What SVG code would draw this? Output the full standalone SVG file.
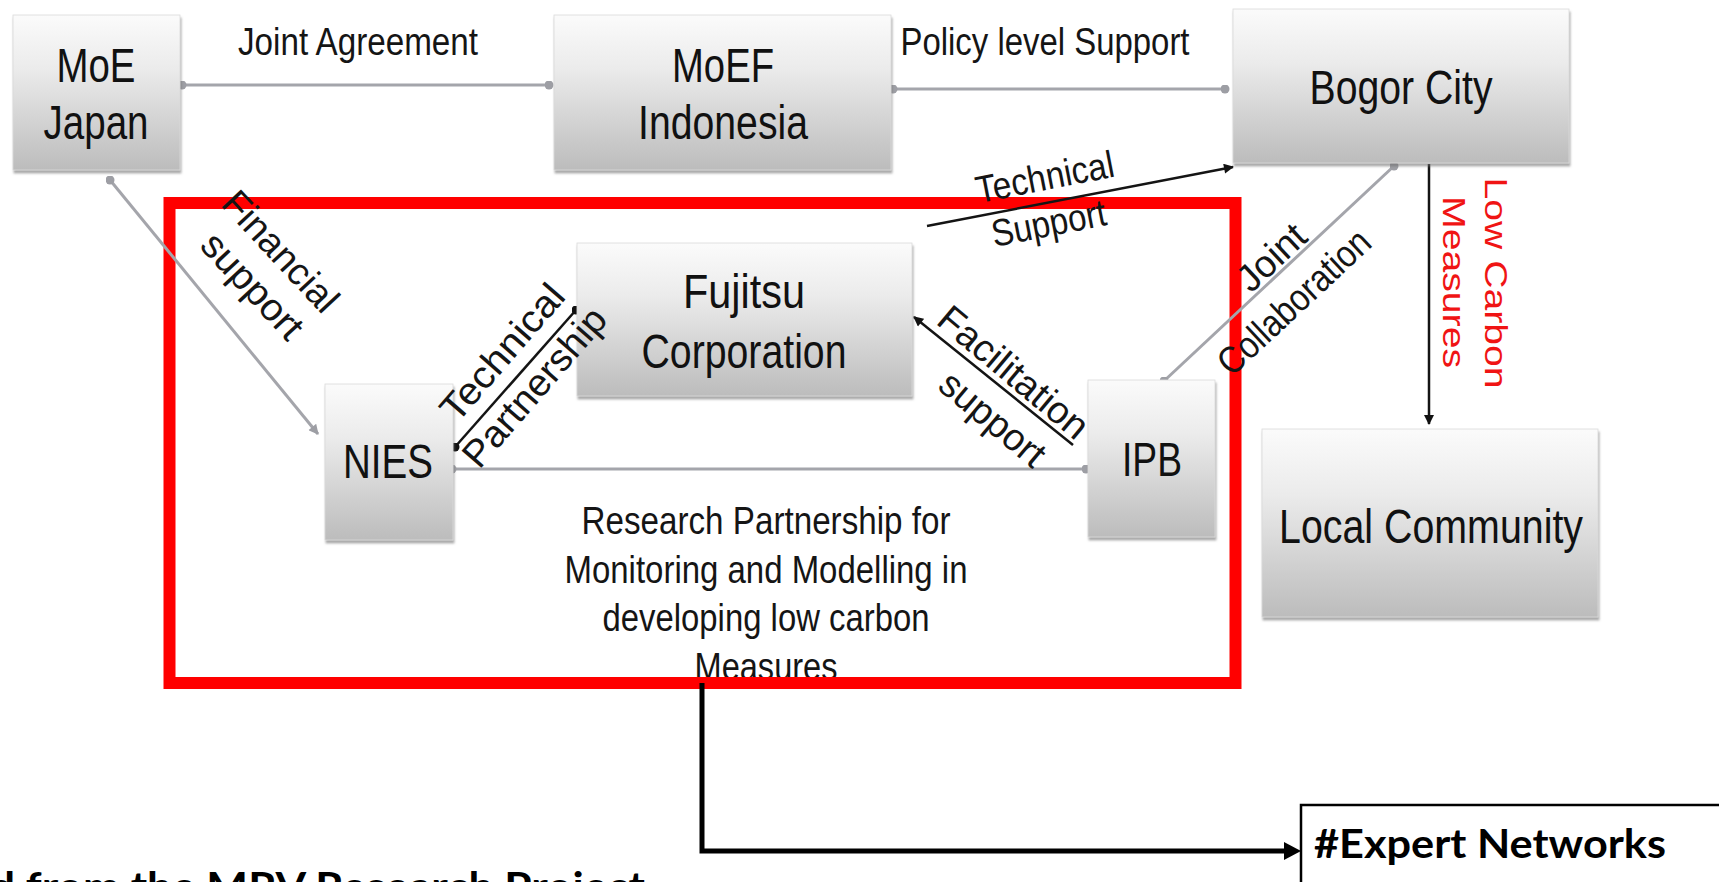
<svg xmlns="http://www.w3.org/2000/svg" width="1719" height="882" viewBox="0 0 1719 882">
  <defs>
    <linearGradient id="boxFill" x1="0" y1="0" x2="0" y2="1">
      <stop offset="0" stop-color="#fbfbfb"/>
      <stop offset="0.35" stop-color="#ebebeb"/>
      <stop offset="1" stop-color="#bcbcbc"/>
    </linearGradient>
    <filter id="boxShadow" x="-10%" y="-10%" width="120%" height="130%">
      <feDropShadow dx="1" dy="3" stdDeviation="1.2" flood-color="#6f6f6f" flood-opacity="0.6"/>
    </filter>
    <marker id="arrowBlack" viewBox="0 0 10 10" refX="9" refY="5" markerWidth="11" markerHeight="10" markerUnits="userSpaceOnUse" orient="auto">
      <path d="M0,0 L10,5 L0,10 Z" fill="#111"/>
    </marker>
    <marker id="arrowGray" viewBox="0 0 10 10" refX="9" refY="5" markerWidth="12" markerHeight="10" markerUnits="userSpaceOnUse" orient="auto">
      <path d="M0,0 L10,5 L0,10 Z" fill="#9d9ea4"/>
    </marker>
    <marker id="dotGray" viewBox="0 0 10 10" refX="5" refY="5" markerWidth="9" markerHeight="9" markerUnits="userSpaceOnUse">
      <circle cx="5" cy="5" r="5" fill="#9d9ea4"/>
    </marker>
    <marker id="dotBlack" viewBox="0 0 10 10" refX="5" refY="5" markerWidth="9" markerHeight="9" markerUnits="userSpaceOnUse">
      <circle cx="5" cy="5" r="5" fill="#111"/>
    </marker>
    <clipPath id="frameInner">
      <rect x="175" y="209" width="1054" height="468"/>
    </clipPath>
  </defs>
  <style>
    .box { fill: url(#boxFill); stroke: #d9d9d9; stroke-width: 0.8; filter: url(#boxShadow); }
    .node { font-family: "Liberation Sans", Arial, sans-serif; font-size: 49px; fill: #111; text-anchor: middle; }
    .lbl { font-family: "Liberation Sans", Arial, sans-serif; font-size: 38px; fill: #151515; text-anchor: middle; }
    .red { font-family: "Liberation Sans", Arial, sans-serif; font-size: 32px; fill: #f01414; text-anchor: middle; }
    .gray { stroke: #a4a5ab; stroke-width: 3; fill: none; }
    .black { stroke: #141414; stroke-width: 2.5; fill: none; }
    .bold { font-family: Lato, "Open Sans", sans-serif; font-weight: 700; font-size: 41px; fill: #000; }
  </style>

  <rect width="1719" height="882" fill="#ffffff"/>

  <!-- highlight frame around the research partnership -->
  <rect id="frame" x="169.5" y="203" width="1066" height="480" fill="none" stroke="#ff0000" stroke-width="12"/>

  <!-- connectors -->
  <g id="connectors">
    <line class="gray" x1="182" y1="85" x2="549" y2="85" marker-start="url(#dotGray)" marker-end="url(#dotGray)"/>
    <line class="gray" x1="893" y1="89" x2="1225" y2="89" marker-start="url(#dotGray)" marker-end="url(#dotGray)"/>
    <line class="gray" x1="110" y1="180" x2="318" y2="434" marker-start="url(#dotGray)" marker-end="url(#arrowGray)"/>
    <line class="black" x1="927" y1="226" x2="1233" y2="167" marker-end="url(#arrowBlack)"/>
    <line class="gray" x1="1164" y1="381" x2="1394" y2="166" marker-start="url(#dotGray)" marker-end="url(#dotGray)"/>
    <line class="black" x1="1429" y1="164" x2="1429" y2="424" marker-end="url(#arrowBlack)"/>
    <line class="black" x1="455" y1="447" x2="576" y2="310" marker-start="url(#dotBlack)" marker-end="url(#dotBlack)"/>
    <line class="black" x1="1073" y1="445" x2="914" y2="317" marker-end="url(#arrowBlack)"/>
    <line class="gray" x1="452" y1="469" x2="1086" y2="469" marker-start="url(#dotGray)" marker-end="url(#dotGray)"/>
    <path d="M702 683 V851 H1286" fill="none" stroke="#000" stroke-width="5"/>
    <path d="M1284 842 L1301 851 L1284 860 Z" fill="#000"/>
  </g>

  <!-- nodes -->
  <g id="moe-japan">
    <rect class="box" x="13" y="15" width="167" height="155"/>
    <text class="node" x="96" y="82" textLength="79" lengthAdjust="spacingAndGlyphs">MoE</text>
    <text class="node" x="96" y="139" textLength="105" lengthAdjust="spacingAndGlyphs">Japan</text>
  </g>
  <g id="moef-indonesia">
    <rect class="box" x="554" y="15" width="337" height="155"/>
    <text class="node" x="723" y="82" textLength="102" lengthAdjust="spacingAndGlyphs">MoEF</text>
    <text class="node" x="723" y="139" textLength="170" lengthAdjust="spacingAndGlyphs">Indonesia</text>
  </g>
  <g id="bogor-city">
    <rect class="box" x="1233" y="9" width="336" height="154"/>
    <text class="node" x="1401" y="104" textLength="183" lengthAdjust="spacingAndGlyphs">Bogor City</text>
  </g>
  <g id="fujitsu">
    <rect class="box" x="577" y="243" width="335" height="153"/>
    <text class="node" x="744" y="308" textLength="122" lengthAdjust="spacingAndGlyphs">Fujitsu</text>
    <text class="node" x="744" y="368" textLength="205" lengthAdjust="spacingAndGlyphs">Corporation</text>
  </g>
  <g id="nies">
    <rect class="box" x="325" y="384" width="128" height="156"/>
    <text class="node" x="388" y="478" textLength="90" lengthAdjust="spacingAndGlyphs">NIES</text>
  </g>
  <g id="ipb">
    <rect class="box" x="1088" y="380" width="127" height="157"/>
    <text class="node" x="1152" y="476" textLength="60" lengthAdjust="spacingAndGlyphs">IPB</text>
  </g>
  <g id="local-community">
    <rect class="box" x="1262" y="429" width="336" height="188"/>
    <text class="node" x="1431" y="543" textLength="304" lengthAdjust="spacingAndGlyphs">Local Community</text>
  </g>
  <g id="expert-networks">
    <rect x="1301" y="805" width="460" height="120" fill="#fff" stroke="#000" stroke-width="2.5"/>
    <text class="bold" x="1314" y="858" textLength="352" lengthAdjust="spacingAndGlyphs">#Expert Networks</text>
  </g>

  <!-- connector labels, drawn above the boxes -->
  <g id="labels">
    <text class="lbl" x="358" y="55" textLength="240" lengthAdjust="spacingAndGlyphs">Joint Agreement</text>
    <text class="lbl" x="1045" y="55" textLength="289" lengthAdjust="spacingAndGlyphs">Policy level Support</text>
    <g transform="translate(280,252) rotate(47)">
      <text class="lbl" x="0" y="12" textLength="151" lengthAdjust="spacingAndGlyphs">Financial</text>
      <text class="lbl" x="6" y="56" textLength="131" lengthAdjust="spacingAndGlyphs">support</text>
    </g>
    <g transform="translate(503,353) rotate(-49)">
      <text class="lbl" x="0" y="12" textLength="168" lengthAdjust="spacingAndGlyphs">Technical</text>
      <text class="lbl" x="-5" y="59" textLength="198" lengthAdjust="spacingAndGlyphs">Partnership</text>
    </g>
    <g transform="translate(1013,373) rotate(40)">
      <text class="lbl" x="0" y="12" textLength="184" lengthAdjust="spacingAndGlyphs">Facilitation</text>
      <text class="lbl" x="14" y="61" textLength="126" lengthAdjust="spacingAndGlyphs">support</text>
    </g>
    <g transform="translate(1045,178) rotate(-11)">
      <text class="lbl" x="0" y="12" font-size="35" textLength="140" lengthAdjust="spacingAndGlyphs">Technical</text>
      <text class="lbl" x="-5" y="58" font-size="35" textLength="116" lengthAdjust="spacingAndGlyphs">Support</text>
    </g>
    <g transform="translate(1272,258) rotate(-43)">
      <text class="lbl" x="0" y="12" font-size="35" textLength="80" lengthAdjust="spacingAndGlyphs">Joint</text>
      <text class="lbl" x="-14" y="60" font-size="35" textLength="194" lengthAdjust="spacingAndGlyphs">Collaboration</text>
    </g>
    <text class="red" transform="translate(1485,283) rotate(90)" textLength="211" lengthAdjust="spacingAndGlyphs">Low Carbon</text>
    <text class="red" transform="translate(1443,282) rotate(90)" textLength="172" lengthAdjust="spacingAndGlyphs">Measures</text>
    <g clip-path="url(#frameInner)">
      <text class="lbl" x="766" y="534" textLength="369" lengthAdjust="spacingAndGlyphs">Research Partnership for</text>
      <text class="lbl" x="766" y="583" textLength="403" lengthAdjust="spacingAndGlyphs">Monitoring and Modelling in</text>
      <text class="lbl" x="766" y="631" textLength="327" lengthAdjust="spacingAndGlyphs">developing low carbon</text>
      <text class="lbl" x="766" y="680" textLength="143" lengthAdjust="spacingAndGlyphs">Measures</text>
    </g>
  </g>

  <!-- source line along the bottom edge -->
  <text class="bold" x="-10" y="901" textLength="655" lengthAdjust="spacingAndGlyphs">d from the MRV Research Project</text>
</svg>
